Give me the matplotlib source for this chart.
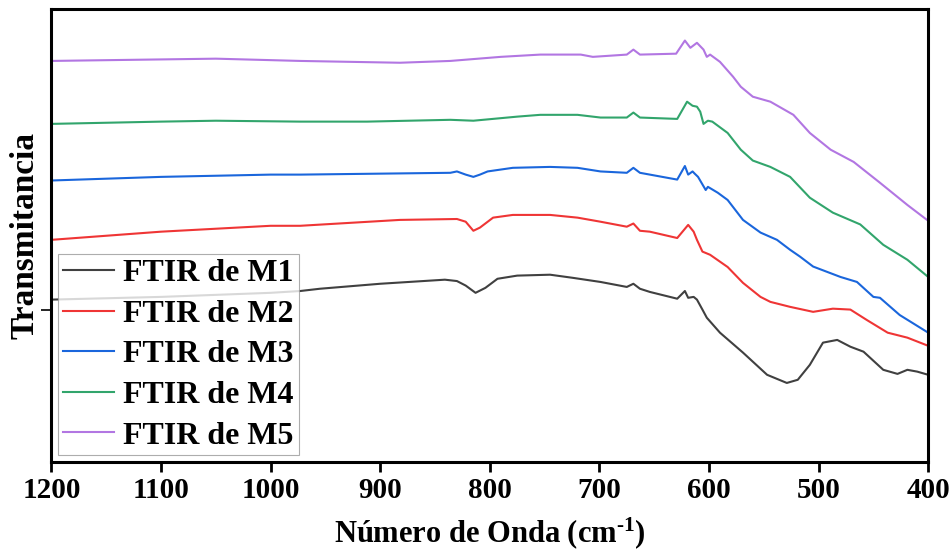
import matplotlib.pyplot as plt
import numpy as np

plt.rcParams['font.family'] = ['Liberation Serif', 'DejaVu Serif']
plt.rcParams['font.weight'] = 'bold'
plt.rcParams['mathtext.fontset'] = 'custom'
plt.rcParams['mathtext.rm'] = 'Liberation Serif:bold'
plt.rcParams['mathtext.bf'] = 'Liberation Serif:bold'
plt.rcParams['mathtext.default'] = 'bf'

# wavenumbers (cm-1) and transmittance (a.u., offset per sample)
wn_m1 = [1200, 1100, 1000, 973, 955, 900, 841, 830, 822, 813, 804, 793, 775, 745, 724, 699, 675, 669, 663,
         654, 629, 622, 619, 614, 611, 606, 602, 590, 569, 547, 529, 519, 508, 496, 483, 471, 459, 441,
         428, 419, 410, 400]
t_m1 = [35.8, 36.4, 37.3, 37.7, 38.2, 39.3, 40.2, 39.9, 38.9, 37.3, 38.4, 40.4, 41.1, 41.3, 40.6, 39.7, 38.6,
        39.3, 38.2, 37.5, 36.0, 37.7, 36.2, 36.4, 35.8, 33.6, 31.8, 28.5, 24.1, 19.2, 17.4, 18.1, 21.4,
        26.3, 26.9, 25.4, 24.3, 20.3, 19.4, 20.3, 19.9, 19.2]

wn_m2 = [1200, 1100, 1000, 973, 882, 830, 822, 815, 809, 797, 779, 745, 720, 699, 675, 669, 663, 654, 629,
         619, 614, 611, 606, 599, 583, 569, 553, 544, 526, 505, 487, 471, 456, 437, 419, 400]
t_m2 = [49.0, 50.8, 52.1, 52.1, 53.4, 53.6, 53.0, 51.0, 51.7, 53.9, 54.5, 54.5, 53.9, 53.0, 51.9, 52.6, 51.0,
        50.8, 49.4, 52.3, 50.8, 49.0, 46.4, 45.7, 43.0, 39.5, 36.4, 35.3, 34.2, 33.1, 33.8, 33.6, 31.3,
        28.5, 27.4, 25.6]

wn_m3 = [1200, 1100, 1000, 973, 836, 830, 822, 815, 809, 802, 779, 745, 720, 699, 675, 669, 663, 629, 622,
         619, 615, 613, 610, 603, 601, 592, 583, 569, 553, 538, 526, 517, 505, 480, 465, 450, 444, 426, 400]
t_m3 = [62.1, 62.9, 63.4, 63.4, 63.8, 64.1, 63.4, 62.9, 63.4, 64.1, 64.9, 65.1, 64.9, 64.1, 63.8, 64.9, 63.8,
        62.3, 65.3, 63.4, 64.1, 63.6, 62.9, 60.0, 60.7, 59.4, 57.8, 53.4, 50.6, 49.0, 46.8, 45.3, 43.1,
        40.8, 39.7, 36.4, 36.2, 32.4, 28.5]

wn_m4 = [1200, 1100, 1050, 973, 912, 836, 815, 775, 754, 720, 699, 675, 669, 663, 629, 620, 615, 611, 608,
         605, 601, 597, 583, 571, 560, 544, 526, 508, 487, 462, 441, 419, 400]
t_m4 = [74.6, 75.1, 75.3, 75.1, 75.1, 75.5, 75.3, 76.2, 76.6, 76.6, 76.0, 76.0, 77.1, 76.0, 75.7, 79.5, 78.6,
        78.4, 77.3, 74.6, 75.3, 75.1, 72.6, 68.9, 66.5, 65.1, 62.9, 58.3, 55.0, 52.4, 47.9, 44.6, 40.8]

wn_m5 = [1200, 1050, 973, 882, 836, 790, 754, 717, 706, 675, 669, 663, 630, 622, 617, 611, 605, 602, 599,
         590, 578, 571, 560, 544, 523, 508, 489, 468, 444, 419, 400]
t_m5 = [88.5, 89.0, 88.5, 88.1, 88.5, 89.4, 89.9, 89.9, 89.4, 89.9, 91.0, 89.9, 90.1, 93.0, 91.4, 92.5, 91.0,
        89.4, 89.9, 88.3, 85.0, 82.8, 80.6, 79.5, 76.6, 72.6, 68.9, 66.2, 61.6, 56.7, 53.2]

labels = ["FTIR de M1", "FTIR de M2", "FTIR de M3", "FTIR de M4", "FTIR de M5"]
colors = ["#404040", "#ef3535", "#1a66dc", "#32a56c", "#b276e2"]

fig = plt.figure(figsize=(9.52, 5.53), dpi=100)
ax = fig.add_axes([0.054, 0.165, 0.921, 0.819])

series = [(wn_m1, t_m1), (wn_m2, t_m2), (wn_m3, t_m3), (wn_m4, t_m4), (wn_m5, t_m5)]
for (wn, t), lab, col in zip(series, labels, colors):
    ax.plot(wn, t, color=col, lw=1.5, label=lab)

ax.set_xlim(1200, 400)
ax.set_ylim(0, 100)
ax.set_xticks(np.arange(1200, 399, -100))
ax.set_yticks([33.6])
ax.set_yticklabels([])
ax.tick_params(axis='x', direction='out', length=7, width=2, labelsize=21, pad=4)
ax.tick_params(axis='y', direction='out', length=7, width=1.2)
for sp in ax.spines.values():
    sp.set_linewidth(2.2)

ax.set_xlabel("Número de Onda (cm$^{\\text{-1}}$)", fontsize=22, fontweight='bold', labelpad=8)
ax.set_ylabel("Transmitancia", fontsize=24, fontweight='bold')
ax.yaxis.set_label_coords(-0.012, 0.5)

leg = ax.legend(loc='lower left', prop={'weight': 'bold', 'size': 23}, frameon=True,
                fancybox=False, edgecolor='#999999', handlelength=1.6, handletextpad=0.3,
                labelspacing=0.35, borderpad=0.15, borderaxespad=0.2)
leg.get_frame().set_linewidth(0.8)

plt.savefig("out.png", dpi=100)
